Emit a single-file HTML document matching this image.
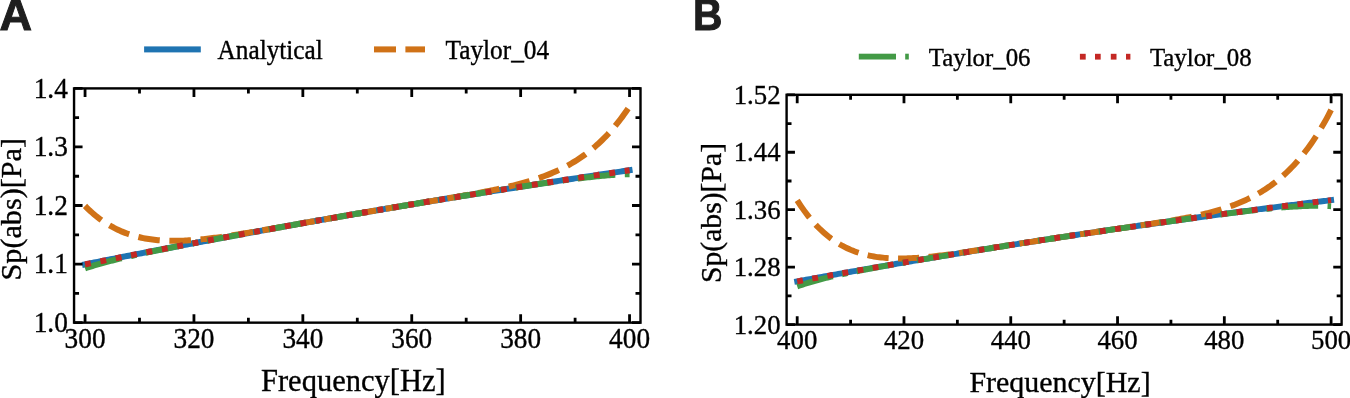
<!DOCTYPE html>
<html><head><meta charset="utf-8"><title>chart</title><style>html,body{margin:0;padding:0;background:#fff;}
svg{display:block;}
.tick,.leg,.lab,.ylab{font-family:"Liberation Serif",serif;fill:#000;stroke:#000;stroke-width:0.35;}
.let{font-family:"Liberation Sans",sans-serif;font-weight:bold;fill:#1e1e1e;stroke:#1e1e1e;stroke-width:1.0;stroke-linejoin:miter;}
</style></head>
<body><svg width="1350" height="398" viewBox="0 0 1350 398">
<path d="M85.05 264.36 L86.87 264.00 L88.69 263.63 L90.51 263.27 L92.33 262.91 L94.16 262.54 L95.98 262.18 L97.80 261.82 L99.62 261.45 L101.44 261.09 L103.26 260.73 L105.08 260.37 L106.90 260.01 L108.72 259.65 L110.54 259.29 L112.37 258.93 L114.19 258.57 L116.01 258.21 L117.83 257.85 L119.65 257.49 L121.47 257.14 L123.29 256.78 L125.11 256.42 L126.93 256.07 L128.76 255.71 L130.58 255.35 L132.40 255.00 L134.22 254.64 L136.04 254.29 L137.86 253.93 L139.68 253.58 L141.50 253.22 L143.32 252.87 L145.15 252.51 L146.97 252.16 L148.79 251.81 L150.61 251.46 L152.43 251.10 L154.25 250.75 L156.07 250.40 L157.89 250.05 L159.71 249.70 L161.53 249.35 L163.36 249.00 L165.18 248.65 L167.00 248.30 L168.82 247.95 L170.64 247.60 L172.46 247.25 L174.28 246.91 L176.10 246.56 L177.92 246.21 L179.75 245.86 L181.57 245.52 L183.39 245.17 L185.21 244.82 L187.03 244.48 L188.85 244.13 L190.67 243.79 L192.49 243.44 L194.31 243.10 L196.14 242.76 L197.96 242.41 L199.78 242.07 L201.60 241.73 L203.42 241.38 L205.24 241.04 L207.06 240.70 L208.88 240.36 L210.70 240.02 L212.52 239.67 L214.35 239.33 L216.17 238.99 L217.99 238.65 L219.81 238.31 L221.63 237.98 L223.45 237.64 L225.27 237.30 L227.09 236.96 L228.91 236.62 L230.74 236.28 L232.56 235.95 L234.38 235.61 L236.20 235.27 L238.02 234.94 L239.84 234.60 L241.66 234.27 L243.48 233.93 L245.30 233.60 L247.13 233.26 L248.95 232.93 L250.77 232.59 L252.59 232.26 L254.41 231.93 L256.23 231.59 L258.05 231.26 L259.87 230.93 L261.69 230.60 L263.51 230.27 L265.34 229.93 L267.16 229.60 L268.98 229.27 L270.80 228.94 L272.62 228.61 L274.44 228.28 L276.26 227.95 L278.08 227.63 L279.90 227.30 L281.73 226.97 L283.55 226.64 L285.37 226.31 L287.19 225.99 L289.01 225.66 L290.83 225.33 L292.65 225.01 L294.47 224.68 L296.29 224.36 L298.12 224.03 L299.94 223.71 L301.76 223.38 L303.58 223.06 L305.40 222.73 L307.22 222.41 L309.04 222.09 L310.86 221.76 L312.68 221.44 L314.50 221.12 L316.33 220.80 L318.15 220.48 L319.97 220.15 L321.79 219.83 L323.61 219.51 L325.43 219.19 L327.25 218.87 L329.07 218.55 L330.89 218.23 L332.72 217.91 L334.54 217.60 L336.36 217.28 L338.18 216.96 L340.00 216.64 L341.82 216.33 L343.64 216.01 L345.46 215.69 L347.28 215.38 L349.11 215.06 L350.93 214.74 L352.75 214.43 L354.57 214.11 L356.39 213.80 L358.21 213.48 L360.03 213.17 L361.85 212.86 L363.67 212.54 L365.49 212.23 L367.32 211.92 L369.14 211.61 L370.96 211.29 L372.78 210.98 L374.60 210.67 L376.42 210.36 L378.24 210.05 L380.06 209.74 L381.88 209.43 L383.71 209.12 L385.53 208.81 L387.35 208.50 L389.17 208.19 L390.99 207.88 L392.81 207.58 L394.63 207.27 L396.45 206.96 L398.27 206.65 L400.10 206.35 L401.92 206.04 L403.74 205.73 L405.56 205.43 L407.38 205.12 L409.20 204.82 L411.02 204.51 L412.84 204.21 L414.66 203.90 L416.48 203.60 L418.31 203.30 L420.13 202.99 L421.95 202.69 L423.77 202.39 L425.59 202.09 L427.41 201.78 L429.23 201.48 L431.05 201.18 L432.87 200.88 L434.70 200.58 L436.52 200.28 L438.34 199.98 L440.16 199.68 L441.98 199.38 L443.80 199.08 L445.62 198.78 L447.44 198.49 L449.26 198.19 L451.09 197.89 L452.91 197.59 L454.73 197.29 L456.55 197.00 L458.37 196.70 L460.19 196.41 L462.01 196.11 L463.83 195.81 L465.65 195.52 L467.47 195.22 L469.30 194.93 L471.12 194.64 L472.94 194.34 L474.76 194.05 L476.58 193.76 L478.40 193.46 L480.22 193.17 L482.04 192.88 L483.86 192.59 L485.69 192.29 L487.51 192.00 L489.33 191.71 L491.15 191.42 L492.97 191.13 L494.79 190.84 L496.61 190.55 L498.43 190.26 L500.25 189.97 L502.08 189.68 L503.90 189.40 L505.72 189.11 L507.54 188.82 L509.36 188.53 L511.18 188.25 L513.00 187.96 L514.82 187.67 L516.64 187.39 L518.46 187.10 L520.29 186.82 L522.11 186.53 L523.93 186.25 L525.75 185.96 L527.57 185.68 L529.39 185.39 L531.21 185.11 L533.03 184.83 L534.85 184.54 L536.68 184.26 L538.50 183.98 L540.32 183.70 L542.14 183.41 L543.96 183.13 L545.78 182.85 L547.60 182.57 L549.42 182.29 L551.24 182.01 L553.07 181.73 L554.89 181.45 L556.71 181.17 L558.53 180.89 L560.35 180.61 L562.17 180.34 L563.99 180.06 L565.81 179.78 L567.63 179.50 L569.45 179.23 L571.28 178.95 L573.10 178.67 L574.92 178.40 L576.74 178.12 L578.56 177.85 L580.38 177.57 L582.20 177.30 L584.02 177.02 L585.84 176.75 L587.67 176.47 L589.49 176.20 L591.31 175.93 L593.13 175.65 L594.95 175.38 L596.77 175.11 L598.59 174.84 L600.41 174.57 L602.23 174.29 L604.06 174.02 L605.88 173.75 L607.70 173.48 L609.52 173.21 L611.34 172.94 L613.16 172.67 L614.98 172.40 L616.80 172.14 L618.62 171.87 L620.44 171.60 L622.27 171.33 L624.09 171.06 L625.91 170.80 L627.73 170.53 L629.55 170.26" stroke="#1f74b2" stroke-width="6.00" fill="none" stroke-linecap="square"/>
<path d="M85.05 205.98 L86.87 207.80 L88.69 209.56 L90.51 211.26 L92.33 212.88 L94.16 214.45 L95.98 215.95 L97.80 217.40 L99.62 218.78 L101.44 220.11 L103.26 221.39 L105.08 222.61 L106.90 223.77 L108.72 224.89 L110.54 225.96 L112.37 226.97 L114.19 227.95 L116.01 228.87 L117.83 229.75 L119.65 230.59 L121.47 231.39 L123.29 232.14 L125.11 232.86 L126.93 233.54 L128.76 234.18 L130.58 234.78 L132.40 235.35 L134.22 235.88 L136.04 236.38 L137.86 236.85 L139.68 237.29 L141.50 237.70 L143.32 238.08 L145.15 238.43 L146.97 238.75 L148.79 239.04 L150.61 239.31 L152.43 239.56 L154.25 239.78 L156.07 239.98 L157.89 240.15 L159.71 240.31 L161.53 240.44 L163.36 240.55 L165.18 240.64 L167.00 240.72 L168.82 240.77 L170.64 240.81 L172.46 240.83 L174.28 240.84 L176.10 240.82 L177.92 240.80 L179.75 240.76 L181.57 240.70 L183.39 240.63 L185.21 240.55 L187.03 240.46 L188.85 240.35 L190.67 240.23 L192.49 240.10 L194.31 239.96 L196.14 239.81 L197.96 239.66 L199.78 239.49 L201.60 239.31 L203.42 239.12 L205.24 238.93 L207.06 238.73 L208.88 238.52 L210.70 238.30 L212.52 238.08 L214.35 237.85 L216.17 237.61 L217.99 237.37 L219.81 237.13 L221.63 236.87 L223.45 236.62 L225.27 236.35 L227.09 236.09 L228.91 235.82 L230.74 235.54 L232.56 235.26 L234.38 234.98 L236.20 234.70 L238.02 234.41 L239.84 234.12 L241.66 233.82 L243.48 233.53 L245.30 233.23 L247.13 232.92 L248.95 232.62 L250.77 232.32 L252.59 232.01 L254.41 231.70 L256.23 231.39 L258.05 231.08 L259.87 230.76 L261.69 230.45 L263.51 230.13 L265.34 229.81 L267.16 229.50 L268.98 229.18 L270.80 228.86 L272.62 228.54 L274.44 228.22 L276.26 227.90 L278.08 227.57 L279.90 227.25 L281.73 226.93 L283.55 226.61 L285.37 226.28 L287.19 225.96 L289.01 225.64 L290.83 225.31 L292.65 224.99 L294.47 224.67 L296.29 224.34 L298.12 224.02 L299.94 223.70 L301.76 223.37 L303.58 223.05 L305.40 222.73 L307.22 222.41 L309.04 222.08 L310.86 221.76 L312.68 221.44 L314.50 221.12 L316.33 220.80 L318.15 220.47 L319.97 220.15 L321.79 219.83 L323.61 219.51 L325.43 219.19 L327.25 218.87 L329.07 218.55 L330.89 218.23 L332.72 217.91 L334.54 217.60 L336.36 217.28 L338.18 216.96 L340.00 216.64 L341.82 216.33 L343.64 216.01 L345.46 215.69 L347.28 215.38 L349.11 215.06 L350.93 214.74 L352.75 214.43 L354.57 214.11 L356.39 213.80 L358.21 213.48 L360.03 213.17 L361.85 212.86 L363.67 212.54 L365.49 212.23 L367.32 211.92 L369.14 211.61 L370.96 211.29 L372.78 210.98 L374.60 210.67 L376.42 210.36 L378.24 210.05 L380.06 209.74 L381.88 209.43 L383.71 209.12 L385.53 208.81 L387.35 208.50 L389.17 208.19 L390.99 207.88 L392.81 207.58 L394.63 207.27 L396.45 206.96 L398.27 206.65 L400.10 206.35 L401.92 206.04 L403.74 205.73 L405.56 205.43 L407.38 205.12 L409.20 204.81 L411.02 204.51 L412.84 204.20 L414.66 203.90 L416.48 203.59 L418.31 203.29 L420.13 202.98 L421.95 202.68 L423.77 202.37 L425.59 202.07 L427.41 201.76 L429.23 201.46 L431.05 201.15 L432.87 200.85 L434.70 200.54 L436.52 200.24 L438.34 199.93 L440.16 199.62 L441.98 199.32 L443.80 199.01 L445.62 198.70 L447.44 198.39 L449.26 198.08 L451.09 197.77 L452.91 197.46 L454.73 197.15 L456.55 196.83 L458.37 196.52 L460.19 196.20 L462.01 195.88 L463.83 195.56 L465.65 195.24 L467.47 194.92 L469.30 194.59 L471.12 194.26 L472.94 193.93 L474.76 193.60 L476.58 193.26 L478.40 192.93 L480.22 192.58 L482.04 192.24 L483.86 191.89 L485.69 191.54 L487.51 191.18 L489.33 190.82 L491.15 190.45 L492.97 190.08 L494.79 189.71 L496.61 189.32 L498.43 188.94 L500.25 188.54 L502.08 188.14 L503.90 187.74 L505.72 187.32 L507.54 186.90 L509.36 186.48 L511.18 186.04 L513.00 185.59 L514.82 185.14 L516.64 184.67 L518.46 184.20 L520.29 183.72 L522.11 183.22 L523.93 182.72 L525.75 182.20 L527.57 181.67 L529.39 181.12 L531.21 180.57 L533.03 179.99 L534.85 179.41 L536.68 178.81 L538.50 178.19 L540.32 177.56 L542.14 176.90 L543.96 176.24 L545.78 175.55 L547.60 174.84 L549.42 174.11 L551.24 173.37 L553.07 172.60 L554.89 171.80 L556.71 170.99 L558.53 170.15 L560.35 169.28 L562.17 168.39 L563.99 167.47 L565.81 166.53 L567.63 165.55 L569.45 164.55 L571.28 163.51 L573.10 162.44 L574.92 161.34 L576.74 160.21 L578.56 159.04 L580.38 157.83 L582.20 156.58 L584.02 155.30 L585.84 153.98 L587.67 152.61 L589.49 151.20 L591.31 149.75 L593.13 148.25 L594.95 146.71 L596.77 145.11 L598.59 143.47 L600.41 141.78 L602.23 140.03 L604.06 138.23 L605.88 136.37 L607.70 134.45 L609.52 132.48 L611.34 130.44 L613.16 128.35 L614.98 126.18 L616.80 123.95 L618.62 121.65 L620.44 119.29 L622.27 116.85 L624.09 114.33 L625.91 111.74 L627.73 109.07 L629.55 106.32" stroke="#d07217" stroke-width="6.00" fill="none" stroke-dasharray="21.65 9.62"/>
<path d="M85.05 268.34 L86.87 267.74 L88.69 267.16 L90.51 266.58 L92.33 266.02 L94.16 265.47 L95.98 264.93 L97.80 264.40 L99.62 263.88 L101.44 263.37 L103.26 262.87 L105.08 262.37 L106.90 261.88 L108.72 261.40 L110.54 260.93 L112.37 260.47 L114.19 260.01 L116.01 259.55 L117.83 259.11 L119.65 258.67 L121.47 258.23 L123.29 257.80 L125.11 257.37 L126.93 256.95 L128.76 256.53 L130.58 256.12 L132.40 255.71 L134.22 255.30 L136.04 254.90 L137.86 254.50 L139.68 254.11 L141.50 253.71 L143.32 253.32 L145.15 252.94 L146.97 252.55 L148.79 252.17 L150.61 251.79 L152.43 251.41 L154.25 251.04 L156.07 250.66 L157.89 250.29 L159.71 249.92 L161.53 249.55 L163.36 249.19 L165.18 248.82 L167.00 248.46 L168.82 248.10 L170.64 247.73 L172.46 247.38 L174.28 247.02 L176.10 246.66 L177.92 246.30 L179.75 245.95 L181.57 245.59 L183.39 245.24 L185.21 244.89 L187.03 244.54 L188.85 244.19 L190.67 243.84 L192.49 243.49 L194.31 243.14 L196.14 242.79 L197.96 242.44 L199.78 242.10 L201.60 241.75 L203.42 241.41 L205.24 241.06 L207.06 240.72 L208.88 240.37 L210.70 240.03 L212.52 239.69 L214.35 239.35 L216.17 239.00 L217.99 238.66 L219.81 238.32 L221.63 237.98 L223.45 237.64 L225.27 237.30 L227.09 236.96 L228.91 236.63 L230.74 236.29 L232.56 235.95 L234.38 235.61 L236.20 235.28 L238.02 234.94 L239.84 234.60 L241.66 234.27 L243.48 233.93 L245.30 233.60 L247.13 233.26 L248.95 232.93 L250.77 232.59 L252.59 232.26 L254.41 231.93 L256.23 231.59 L258.05 231.26 L259.87 230.93 L261.69 230.60 L263.51 230.27 L265.34 229.93 L267.16 229.60 L268.98 229.27 L270.80 228.94 L272.62 228.61 L274.44 228.28 L276.26 227.95 L278.08 227.63 L279.90 227.30 L281.73 226.97 L283.55 226.64 L285.37 226.31 L287.19 225.99 L289.01 225.66 L290.83 225.33 L292.65 225.01 L294.47 224.68 L296.29 224.36 L298.12 224.03 L299.94 223.71 L301.76 223.38 L303.58 223.06 L305.40 222.73 L307.22 222.41 L309.04 222.09 L310.86 221.76 L312.68 221.44 L314.50 221.12 L316.33 220.80 L318.15 220.48 L319.97 220.15 L321.79 219.83 L323.61 219.51 L325.43 219.19 L327.25 218.87 L329.07 218.55 L330.89 218.23 L332.72 217.91 L334.54 217.60 L336.36 217.28 L338.18 216.96 L340.00 216.64 L341.82 216.33 L343.64 216.01 L345.46 215.69 L347.28 215.38 L349.11 215.06 L350.93 214.74 L352.75 214.43 L354.57 214.11 L356.39 213.80 L358.21 213.48 L360.03 213.17 L361.85 212.86 L363.67 212.54 L365.49 212.23 L367.32 211.92 L369.14 211.61 L370.96 211.29 L372.78 210.98 L374.60 210.67 L376.42 210.36 L378.24 210.05 L380.06 209.74 L381.88 209.43 L383.71 209.12 L385.53 208.81 L387.35 208.50 L389.17 208.19 L390.99 207.88 L392.81 207.58 L394.63 207.27 L396.45 206.96 L398.27 206.65 L400.10 206.35 L401.92 206.04 L403.74 205.73 L405.56 205.43 L407.38 205.12 L409.20 204.82 L411.02 204.51 L412.84 204.21 L414.66 203.90 L416.48 203.60 L418.31 203.30 L420.13 202.99 L421.95 202.69 L423.77 202.39 L425.59 202.09 L427.41 201.78 L429.23 201.48 L431.05 201.18 L432.87 200.88 L434.70 200.58 L436.52 200.28 L438.34 199.98 L440.16 199.68 L441.98 199.38 L443.80 199.08 L445.62 198.78 L447.44 198.49 L449.26 198.19 L451.09 197.89 L452.91 197.59 L454.73 197.30 L456.55 197.00 L458.37 196.70 L460.19 196.41 L462.01 196.11 L463.83 195.82 L465.65 195.52 L467.47 195.23 L469.30 194.93 L471.12 194.64 L472.94 194.34 L474.76 194.05 L476.58 193.76 L478.40 193.47 L480.22 193.17 L482.04 192.88 L483.86 192.59 L485.69 192.30 L487.51 192.01 L489.33 191.72 L491.15 191.43 L492.97 191.14 L494.79 190.85 L496.61 190.56 L498.43 190.27 L500.25 189.99 L502.08 189.70 L503.90 189.41 L505.72 189.13 L507.54 188.84 L509.36 188.55 L511.18 188.27 L513.00 187.99 L514.82 187.70 L516.64 187.42 L518.46 187.14 L520.29 186.85 L522.11 186.57 L523.93 186.29 L525.75 186.01 L527.57 185.73 L529.39 185.46 L531.21 185.18 L533.03 184.90 L534.85 184.63 L536.68 184.35 L538.50 184.08 L540.32 183.81 L542.14 183.54 L543.96 183.27 L545.78 183.00 L547.60 182.73 L549.42 182.46 L551.24 182.20 L553.07 181.93 L554.89 181.67 L556.71 181.41 L558.53 181.15 L560.35 180.90 L562.17 180.64 L563.99 180.39 L565.81 180.14 L567.63 179.89 L569.45 179.65 L571.28 179.40 L573.10 179.16 L574.92 178.93 L576.74 178.69 L578.56 178.46 L580.38 178.23 L582.20 178.01 L584.02 177.79 L585.84 177.57 L587.67 177.36 L589.49 177.15 L591.31 176.95 L593.13 176.75 L594.95 176.55 L596.77 176.36 L598.59 176.18 L600.41 176.00 L602.23 175.83 L604.06 175.67 L605.88 175.51 L607.70 175.36 L609.52 175.21 L611.34 175.08 L613.16 174.95 L614.98 174.83 L616.80 174.72 L618.62 174.62 L620.44 174.53 L622.27 174.45 L624.09 174.38 L625.91 174.32 L627.73 174.27 L629.55 174.24" stroke="#439a46" stroke-width="6.00" fill="none" stroke-dasharray="37.95 9.55 5.6 9.5"/>
<path d="M85.05 264.36 L86.87 264.00 L88.69 263.63 L90.51 263.27 L92.33 262.91 L94.16 262.54 L95.98 262.18 L97.80 261.82 L99.62 261.45 L101.44 261.09 L103.26 260.73 L105.08 260.37 L106.90 260.01 L108.72 259.65 L110.54 259.29 L112.37 258.93 L114.19 258.57 L116.01 258.21 L117.83 257.85 L119.65 257.49 L121.47 257.14 L123.29 256.78 L125.11 256.42 L126.93 256.07 L128.76 255.71 L130.58 255.35 L132.40 255.00 L134.22 254.64 L136.04 254.29 L137.86 253.93 L139.68 253.58 L141.50 253.22 L143.32 252.87 L145.15 252.51 L146.97 252.16 L148.79 251.81 L150.61 251.46 L152.43 251.10 L154.25 250.75 L156.07 250.40 L157.89 250.05 L159.71 249.70 L161.53 249.35 L163.36 249.00 L165.18 248.65 L167.00 248.30 L168.82 247.95 L170.64 247.60 L172.46 247.25 L174.28 246.91 L176.10 246.56 L177.92 246.21 L179.75 245.86 L181.57 245.52 L183.39 245.17 L185.21 244.82 L187.03 244.48 L188.85 244.13 L190.67 243.79 L192.49 243.44 L194.31 243.10 L196.14 242.76 L197.96 242.41 L199.78 242.07 L201.60 241.73 L203.42 241.38 L205.24 241.04 L207.06 240.70 L208.88 240.36 L210.70 240.02 L212.52 239.67 L214.35 239.33 L216.17 238.99 L217.99 238.65 L219.81 238.31 L221.63 237.98 L223.45 237.64 L225.27 237.30 L227.09 236.96 L228.91 236.62 L230.74 236.28 L232.56 235.95 L234.38 235.61 L236.20 235.27 L238.02 234.94 L239.84 234.60 L241.66 234.27 L243.48 233.93 L245.30 233.60 L247.13 233.26 L248.95 232.93 L250.77 232.59 L252.59 232.26 L254.41 231.93 L256.23 231.59 L258.05 231.26 L259.87 230.93 L261.69 230.60 L263.51 230.27 L265.34 229.93 L267.16 229.60 L268.98 229.27 L270.80 228.94 L272.62 228.61 L274.44 228.28 L276.26 227.95 L278.08 227.63 L279.90 227.30 L281.73 226.97 L283.55 226.64 L285.37 226.31 L287.19 225.99 L289.01 225.66 L290.83 225.33 L292.65 225.01 L294.47 224.68 L296.29 224.36 L298.12 224.03 L299.94 223.71 L301.76 223.38 L303.58 223.06 L305.40 222.73 L307.22 222.41 L309.04 222.09 L310.86 221.76 L312.68 221.44 L314.50 221.12 L316.33 220.80 L318.15 220.48 L319.97 220.15 L321.79 219.83 L323.61 219.51 L325.43 219.19 L327.25 218.87 L329.07 218.55 L330.89 218.23 L332.72 217.91 L334.54 217.60 L336.36 217.28 L338.18 216.96 L340.00 216.64 L341.82 216.33 L343.64 216.01 L345.46 215.69 L347.28 215.38 L349.11 215.06 L350.93 214.74 L352.75 214.43 L354.57 214.11 L356.39 213.80 L358.21 213.48 L360.03 213.17 L361.85 212.86 L363.67 212.54 L365.49 212.23 L367.32 211.92 L369.14 211.61 L370.96 211.29 L372.78 210.98 L374.60 210.67 L376.42 210.36 L378.24 210.05 L380.06 209.74 L381.88 209.43 L383.71 209.12 L385.53 208.81 L387.35 208.50 L389.17 208.19 L390.99 207.88 L392.81 207.58 L394.63 207.27 L396.45 206.96 L398.27 206.65 L400.10 206.35 L401.92 206.04 L403.74 205.73 L405.56 205.43 L407.38 205.12 L409.20 204.82 L411.02 204.51 L412.84 204.21 L414.66 203.90 L416.48 203.60 L418.31 203.30 L420.13 202.99 L421.95 202.69 L423.77 202.39 L425.59 202.09 L427.41 201.78 L429.23 201.48 L431.05 201.18 L432.87 200.88 L434.70 200.58 L436.52 200.28 L438.34 199.98 L440.16 199.68 L441.98 199.38 L443.80 199.08 L445.62 198.78 L447.44 198.49 L449.26 198.19 L451.09 197.89 L452.91 197.59 L454.73 197.29 L456.55 197.00 L458.37 196.70 L460.19 196.41 L462.01 196.11 L463.83 195.81 L465.65 195.52 L467.47 195.22 L469.30 194.93 L471.12 194.64 L472.94 194.34 L474.76 194.05 L476.58 193.76 L478.40 193.46 L480.22 193.17 L482.04 192.88 L483.86 192.59 L485.69 192.29 L487.51 192.00 L489.33 191.71 L491.15 191.42 L492.97 191.13 L494.79 190.84 L496.61 190.55 L498.43 190.26 L500.25 189.97 L502.08 189.68 L503.90 189.40 L505.72 189.11 L507.54 188.82 L509.36 188.53 L511.18 188.25 L513.00 187.96 L514.82 187.67 L516.64 187.39 L518.46 187.10 L520.29 186.82 L522.11 186.53 L523.93 186.25 L525.75 185.96 L527.57 185.68 L529.39 185.39 L531.21 185.11 L533.03 184.83 L534.85 184.54 L536.68 184.26 L538.50 183.98 L540.32 183.70 L542.14 183.41 L543.96 183.13 L545.78 182.85 L547.60 182.57 L549.42 182.29 L551.24 182.01 L553.07 181.73 L554.89 181.45 L556.71 181.17 L558.53 180.89 L560.35 180.61 L562.17 180.34 L563.99 180.06 L565.81 179.78 L567.63 179.50 L569.45 179.23 L571.28 178.95 L573.10 178.67 L574.92 178.40 L576.74 178.12 L578.56 177.85 L580.38 177.57 L582.20 177.30 L584.02 177.02 L585.84 176.75 L587.67 176.47 L589.49 176.20 L591.31 175.93 L593.13 175.65 L594.95 175.38 L596.77 175.11 L598.59 174.84 L600.41 174.57 L602.23 174.29 L604.06 174.02 L605.88 173.75 L607.70 173.48 L609.52 173.21 L611.34 172.94 L613.16 172.67 L614.98 172.40 L616.80 172.14 L618.62 171.87 L620.44 171.60 L622.27 171.33 L624.09 171.06 L625.91 170.80 L627.73 170.53 L629.55 170.26" stroke="#c42824" stroke-width="6.00" fill="none" stroke-dasharray="5.9 9.75"/>
<path d="M85.05 322.65V314.15M85.05 88.40V96.90M193.95 322.65V314.15M193.95 88.40V96.90M302.85 322.65V314.15M302.85 88.40V96.90M411.75 322.65V314.15M411.75 88.40V96.90M520.65 322.65V314.15M520.65 88.40V96.90M629.55 322.65V314.15M629.55 88.40V96.90M139.50 322.65V317.65M139.50 88.40V93.40M248.40 322.65V317.65M248.40 88.40V93.40M357.30 322.65V317.65M357.30 88.40V93.40M466.20 322.65V317.65M466.20 88.40V93.40M575.10 322.65V317.65M575.10 88.40V93.40M74.05 322.65H82.55M640.50 322.65H632.00M74.05 264.09H82.55M640.50 264.09H632.00M74.05 205.52H82.55M640.50 205.52H632.00M74.05 146.96H82.55M640.50 146.96H632.00M74.05 88.40H82.55M640.50 88.40H632.00M74.05 293.37H79.05M640.50 293.37H635.50M74.05 234.81H79.05M640.50 234.81H635.50M74.05 176.24H79.05M640.50 176.24H635.50M74.05 117.68H79.05M640.50 117.68H635.50" stroke="#000" stroke-width="2.80" fill="none"/>
<rect x="74.05" y="88.40" width="566.45" height="234.25" fill="none" stroke="#000" stroke-width="2.40"/>
<path d="M797.20 281.38 L798.99 281.05 L800.77 280.73 L802.56 280.40 L804.34 280.08 L806.13 279.75 L807.91 279.43 L809.70 279.10 L811.48 278.78 L813.27 278.46 L815.06 278.13 L816.84 277.81 L818.63 277.49 L820.41 277.17 L822.20 276.84 L823.98 276.52 L825.77 276.20 L827.56 275.88 L829.34 275.56 L831.13 275.24 L832.91 274.92 L834.70 274.60 L836.48 274.29 L838.27 273.97 L840.05 273.65 L841.84 273.33 L843.63 273.02 L845.41 272.70 L847.20 272.38 L848.98 272.07 L850.77 271.75 L852.55 271.44 L854.34 271.12 L856.13 270.81 L857.91 270.49 L859.70 270.18 L861.48 269.87 L863.27 269.56 L865.05 269.24 L866.84 268.93 L868.62 268.62 L870.41 268.31 L872.20 268.00 L873.98 267.69 L875.77 267.38 L877.55 267.07 L879.34 266.76 L881.12 266.45 L882.91 266.14 L884.70 265.83 L886.48 265.52 L888.27 265.22 L890.05 264.91 L891.84 264.60 L893.62 264.30 L895.41 263.99 L897.19 263.68 L898.98 263.38 L900.77 263.07 L902.55 262.77 L904.34 262.47 L906.12 262.16 L907.91 261.86 L909.69 261.55 L911.48 261.25 L913.27 260.95 L915.05 260.65 L916.84 260.35 L918.62 260.05 L920.41 259.74 L922.19 259.44 L923.98 259.14 L925.76 258.84 L927.55 258.55 L929.34 258.25 L931.12 257.95 L932.91 257.65 L934.69 257.35 L936.48 257.05 L938.26 256.76 L940.05 256.46 L941.84 256.16 L943.62 255.87 L945.41 255.57 L947.19 255.28 L948.98 254.98 L950.76 254.69 L952.55 254.39 L954.33 254.10 L956.12 253.81 L957.91 253.51 L959.69 253.22 L961.48 252.93 L963.26 252.64 L965.05 252.35 L966.83 252.05 L968.62 251.76 L970.41 251.47 L972.19 251.18 L973.98 250.89 L975.76 250.60 L977.55 250.31 L979.33 250.03 L981.12 249.74 L982.90 249.45 L984.69 249.16 L986.48 248.88 L988.26 248.59 L990.05 248.30 L991.83 248.02 L993.62 247.73 L995.40 247.45 L997.19 247.16 L998.97 246.88 L1000.76 246.59 L1002.55 246.31 L1004.33 246.02 L1006.12 245.74 L1007.90 245.46 L1009.69 245.18 L1011.47 244.89 L1013.26 244.61 L1015.05 244.33 L1016.83 244.05 L1018.62 243.77 L1020.40 243.49 L1022.19 243.21 L1023.97 242.93 L1025.76 242.65 L1027.54 242.37 L1029.33 242.09 L1031.12 241.82 L1032.90 241.54 L1034.69 241.26 L1036.47 240.98 L1038.26 240.71 L1040.04 240.43 L1041.83 240.16 L1043.62 239.88 L1045.40 239.60 L1047.19 239.33 L1048.97 239.06 L1050.76 238.78 L1052.54 238.51 L1054.33 238.23 L1056.11 237.96 L1057.90 237.69 L1059.69 237.42 L1061.47 237.14 L1063.26 236.87 L1065.04 236.60 L1066.83 236.33 L1068.61 236.06 L1070.40 235.79 L1072.19 235.52 L1073.97 235.25 L1075.76 234.98 L1077.54 234.71 L1079.33 234.45 L1081.11 234.18 L1082.90 233.91 L1084.68 233.64 L1086.47 233.38 L1088.26 233.11 L1090.04 232.84 L1091.83 232.58 L1093.61 232.31 L1095.40 232.05 L1097.18 231.78 L1098.97 231.52 L1100.76 231.25 L1102.54 230.99 L1104.33 230.73 L1106.11 230.47 L1107.90 230.20 L1109.68 229.94 L1111.47 229.68 L1113.25 229.42 L1115.04 229.16 L1116.83 228.90 L1118.61 228.64 L1120.40 228.37 L1122.18 228.12 L1123.97 227.86 L1125.75 227.60 L1127.54 227.34 L1129.33 227.08 L1131.11 226.82 L1132.90 226.56 L1134.68 226.31 L1136.47 226.05 L1138.25 225.79 L1140.04 225.54 L1141.82 225.28 L1143.61 225.03 L1145.40 224.77 L1147.18 224.52 L1148.97 224.26 L1150.75 224.01 L1152.54 223.76 L1154.32 223.50 L1156.11 223.25 L1157.89 223.00 L1159.68 222.74 L1161.47 222.49 L1163.25 222.24 L1165.04 221.99 L1166.82 221.74 L1168.61 221.49 L1170.39 221.24 L1172.18 220.99 L1173.97 220.74 L1175.75 220.49 L1177.54 220.24 L1179.32 219.99 L1181.11 219.74 L1182.89 219.50 L1184.68 219.25 L1186.46 219.00 L1188.25 218.76 L1190.04 218.51 L1191.82 218.26 L1193.61 218.02 L1195.39 217.77 L1197.18 217.53 L1198.96 217.28 L1200.75 217.04 L1202.54 216.80 L1204.32 216.55 L1206.11 216.31 L1207.89 216.07 L1209.68 215.82 L1211.46 215.58 L1213.25 215.34 L1215.03 215.10 L1216.82 214.86 L1218.61 214.62 L1220.39 214.38 L1222.18 214.14 L1223.96 213.90 L1225.75 213.66 L1227.53 213.42 L1229.32 213.18 L1231.11 212.94 L1232.89 212.70 L1234.68 212.47 L1236.46 212.23 L1238.25 211.99 L1240.03 211.76 L1241.82 211.52 L1243.60 211.28 L1245.39 211.05 L1247.18 210.81 L1248.96 210.58 L1250.75 210.34 L1252.53 210.11 L1254.32 209.88 L1256.10 209.64 L1257.89 209.41 L1259.68 209.18 L1261.46 208.95 L1263.25 208.71 L1265.03 208.48 L1266.82 208.25 L1268.60 208.02 L1270.39 207.79 L1272.17 207.56 L1273.96 207.33 L1275.75 207.10 L1277.53 206.87 L1279.32 206.64 L1281.10 206.41 L1282.89 206.18 L1284.67 205.96 L1286.46 205.73 L1288.25 205.50 L1290.03 205.28 L1291.82 205.05 L1293.60 204.82 L1295.39 204.60 L1297.17 204.37 L1298.96 204.15 L1300.74 203.92 L1302.53 203.70 L1304.32 203.47 L1306.10 203.25 L1307.89 203.03 L1309.67 202.80 L1311.46 202.58 L1313.24 202.36 L1315.03 202.14 L1316.82 201.91 L1318.60 201.69 L1320.39 201.47 L1322.17 201.25 L1323.96 201.03 L1325.74 200.81 L1327.53 200.59 L1329.31 200.37 L1331.10 200.15" stroke="#1f74b2" stroke-width="5.90" fill="none" stroke-linecap="square"/>
<path d="M797.20 200.29 L798.99 203.08 L800.77 205.77 L802.56 208.36 L804.34 210.86 L806.13 213.27 L807.91 215.59 L809.70 217.82 L811.48 219.96 L813.27 222.03 L815.06 224.01 L816.84 225.91 L818.63 227.74 L820.41 229.50 L822.20 231.18 L823.98 232.79 L825.77 234.33 L827.56 235.81 L829.34 237.23 L831.13 238.58 L832.91 239.87 L834.70 241.10 L836.48 242.28 L838.27 243.40 L840.05 244.47 L841.84 245.48 L843.63 246.45 L845.41 247.36 L847.20 248.23 L848.98 249.05 L850.77 249.83 L852.55 250.56 L854.34 251.26 L856.13 251.91 L857.91 252.52 L859.70 253.10 L861.48 253.64 L863.27 254.15 L865.05 254.62 L866.84 255.05 L868.62 255.46 L870.41 255.83 L872.20 256.18 L873.98 256.50 L875.77 256.79 L877.55 257.05 L879.34 257.29 L881.12 257.50 L882.91 257.69 L884.70 257.86 L886.48 258.00 L888.27 258.12 L890.05 258.23 L891.84 258.31 L893.62 258.38 L895.41 258.42 L897.19 258.45 L898.98 258.47 L900.77 258.46 L902.55 258.45 L904.34 258.41 L906.12 258.37 L907.91 258.31 L909.69 258.23 L911.48 258.15 L913.27 258.05 L915.05 257.95 L916.84 257.83 L918.62 257.70 L920.41 257.56 L922.19 257.42 L923.98 257.26 L925.76 257.10 L927.55 256.92 L929.34 256.75 L931.12 256.56 L932.91 256.37 L934.69 256.17 L936.48 255.96 L938.26 255.75 L940.05 255.54 L941.84 255.31 L943.62 255.09 L945.41 254.86 L947.19 254.62 L948.98 254.38 L950.76 254.14 L952.55 253.90 L954.33 253.65 L956.12 253.39 L957.91 253.14 L959.69 252.88 L961.48 252.62 L963.26 252.36 L965.05 252.10 L966.83 251.83 L968.62 251.56 L970.41 251.29 L972.19 251.02 L973.98 250.75 L975.76 250.48 L977.55 250.20 L979.33 249.93 L981.12 249.65 L982.90 249.37 L984.69 249.09 L986.48 248.82 L988.26 248.54 L990.05 248.26 L991.83 247.98 L993.62 247.70 L995.40 247.42 L997.19 247.13 L998.97 246.85 L1000.76 246.57 L1002.55 246.29 L1004.33 246.01 L1006.12 245.73 L1007.90 245.45 L1009.69 245.17 L1011.47 244.89 L1013.26 244.61 L1015.05 244.33 L1016.83 244.05 L1018.62 243.77 L1020.40 243.49 L1022.19 243.21 L1023.97 242.93 L1025.76 242.65 L1027.54 242.37 L1029.33 242.09 L1031.12 241.82 L1032.90 241.54 L1034.69 241.26 L1036.47 240.98 L1038.26 240.71 L1040.04 240.43 L1041.83 240.16 L1043.62 239.88 L1045.40 239.60 L1047.19 239.33 L1048.97 239.06 L1050.76 238.78 L1052.54 238.51 L1054.33 238.23 L1056.11 237.96 L1057.90 237.69 L1059.69 237.42 L1061.47 237.14 L1063.26 236.87 L1065.04 236.60 L1066.83 236.33 L1068.61 236.06 L1070.40 235.79 L1072.19 235.52 L1073.97 235.25 L1075.76 234.98 L1077.54 234.71 L1079.33 234.45 L1081.11 234.18 L1082.90 233.91 L1084.68 233.64 L1086.47 233.38 L1088.26 233.11 L1090.04 232.84 L1091.83 232.58 L1093.61 232.31 L1095.40 232.05 L1097.18 231.78 L1098.97 231.52 L1100.76 231.25 L1102.54 230.99 L1104.33 230.73 L1106.11 230.46 L1107.90 230.20 L1109.68 229.93 L1111.47 229.67 L1113.25 229.41 L1115.04 229.15 L1116.83 228.88 L1118.61 228.62 L1120.40 228.36 L1122.18 228.09 L1123.97 227.83 L1125.75 227.57 L1127.54 227.30 L1129.33 227.04 L1131.11 226.78 L1132.90 226.51 L1134.68 226.25 L1136.47 225.98 L1138.25 225.71 L1140.04 225.45 L1141.82 225.18 L1143.61 224.91 L1145.40 224.64 L1147.18 224.37 L1148.97 224.09 L1150.75 223.82 L1152.54 223.54 L1154.32 223.26 L1156.11 222.98 L1157.89 222.70 L1159.68 222.42 L1161.47 222.13 L1163.25 221.84 L1165.04 221.55 L1166.82 221.25 L1168.61 220.96 L1170.39 220.65 L1172.18 220.35 L1173.97 220.04 L1175.75 219.73 L1177.54 219.41 L1179.32 219.08 L1181.11 218.76 L1182.89 218.42 L1184.68 218.09 L1186.46 217.74 L1188.25 217.39 L1190.04 217.03 L1191.82 216.67 L1193.61 216.30 L1195.39 215.92 L1197.18 215.53 L1198.96 215.13 L1200.75 214.73 L1202.54 214.32 L1204.32 213.89 L1206.11 213.46 L1207.89 213.01 L1209.68 212.56 L1211.46 212.09 L1213.25 211.61 L1215.03 211.12 L1216.82 210.61 L1218.61 210.09 L1220.39 209.56 L1222.18 209.01 L1223.96 208.45 L1225.75 207.87 L1227.53 207.27 L1229.32 206.65 L1231.11 206.02 L1232.89 205.37 L1234.68 204.70 L1236.46 204.00 L1238.25 203.29 L1240.03 202.55 L1241.82 201.79 L1243.60 201.01 L1245.39 200.20 L1247.18 199.37 L1248.96 198.51 L1250.75 197.63 L1252.53 196.71 L1254.32 195.77 L1256.10 194.79 L1257.89 193.79 L1259.68 192.75 L1261.46 191.68 L1263.25 190.58 L1265.03 189.44 L1266.82 188.26 L1268.60 187.05 L1270.39 185.80 L1272.17 184.51 L1273.96 183.17 L1275.75 181.80 L1277.53 180.38 L1279.32 178.91 L1281.10 177.40 L1282.89 175.84 L1284.67 174.24 L1286.46 172.58 L1288.25 170.87 L1290.03 169.11 L1291.82 167.29 L1293.60 165.41 L1295.39 163.48 L1297.17 161.49 L1298.96 159.43 L1300.74 157.32 L1302.53 155.13 L1304.32 152.89 L1306.10 150.57 L1307.89 148.19 L1309.67 145.73 L1311.46 143.20 L1313.24 140.59 L1315.03 137.91 L1316.82 135.15 L1318.60 132.30 L1320.39 129.38 L1322.17 126.37 L1323.96 123.27 L1325.74 120.08 L1327.53 116.80 L1329.31 113.42 L1331.10 109.95" stroke="#d07217" stroke-width="5.90" fill="none" stroke-dasharray="21.2 9.43"/>
<path d="M797.20 286.40 L798.99 285.78 L800.77 285.17 L802.56 284.58 L804.34 284.01 L806.13 283.45 L807.91 282.90 L809.70 282.36 L811.48 281.84 L813.27 281.33 L815.06 280.82 L816.84 280.33 L818.63 279.85 L820.41 279.38 L822.20 278.92 L823.98 278.46 L825.77 278.01 L827.56 277.58 L829.34 277.14 L831.13 276.72 L832.91 276.30 L834.70 275.89 L836.48 275.48 L838.27 275.08 L840.05 274.69 L841.84 274.30 L843.63 273.92 L845.41 273.54 L847.20 273.16 L848.98 272.79 L850.77 272.42 L852.55 272.06 L854.34 271.70 L856.13 271.34 L857.91 270.99 L859.70 270.64 L861.48 270.29 L863.27 269.94 L865.05 269.60 L866.84 269.26 L868.62 268.92 L870.41 268.59 L872.20 268.25 L873.98 267.92 L875.77 267.59 L877.55 267.27 L879.34 266.94 L881.12 266.62 L882.91 266.29 L884.70 265.97 L886.48 265.65 L888.27 265.33 L890.05 265.02 L891.84 264.70 L893.62 264.38 L895.41 264.07 L897.19 263.76 L898.98 263.45 L900.77 263.13 L902.55 262.82 L904.34 262.51 L906.12 262.21 L907.91 261.90 L909.69 261.59 L911.48 261.29 L913.27 260.98 L915.05 260.67 L916.84 260.37 L918.62 260.07 L920.41 259.76 L922.19 259.46 L923.98 259.16 L925.76 258.86 L927.55 258.56 L929.34 258.26 L931.12 257.96 L932.91 257.66 L934.69 257.36 L936.48 257.06 L938.26 256.76 L940.05 256.47 L941.84 256.17 L943.62 255.87 L945.41 255.58 L947.19 255.28 L948.98 254.98 L950.76 254.69 L952.55 254.40 L954.33 254.10 L956.12 253.81 L957.91 253.51 L959.69 253.22 L961.48 252.93 L963.26 252.64 L965.05 252.35 L966.83 252.05 L968.62 251.76 L970.41 251.47 L972.19 251.18 L973.98 250.89 L975.76 250.60 L977.55 250.31 L979.33 250.03 L981.12 249.74 L982.90 249.45 L984.69 249.16 L986.48 248.88 L988.26 248.59 L990.05 248.30 L991.83 248.02 L993.62 247.73 L995.40 247.45 L997.19 247.16 L998.97 246.88 L1000.76 246.59 L1002.55 246.31 L1004.33 246.02 L1006.12 245.74 L1007.90 245.46 L1009.69 245.18 L1011.47 244.89 L1013.26 244.61 L1015.05 244.33 L1016.83 244.05 L1018.62 243.77 L1020.40 243.49 L1022.19 243.21 L1023.97 242.93 L1025.76 242.65 L1027.54 242.37 L1029.33 242.09 L1031.12 241.82 L1032.90 241.54 L1034.69 241.26 L1036.47 240.98 L1038.26 240.71 L1040.04 240.43 L1041.83 240.16 L1043.62 239.88 L1045.40 239.60 L1047.19 239.33 L1048.97 239.06 L1050.76 238.78 L1052.54 238.51 L1054.33 238.23 L1056.11 237.96 L1057.90 237.69 L1059.69 237.42 L1061.47 237.14 L1063.26 236.87 L1065.04 236.60 L1066.83 236.33 L1068.61 236.06 L1070.40 235.79 L1072.19 235.52 L1073.97 235.25 L1075.76 234.98 L1077.54 234.71 L1079.33 234.45 L1081.11 234.18 L1082.90 233.91 L1084.68 233.64 L1086.47 233.38 L1088.26 233.11 L1090.04 232.84 L1091.83 232.58 L1093.61 232.31 L1095.40 232.05 L1097.18 231.78 L1098.97 231.52 L1100.76 231.25 L1102.54 230.99 L1104.33 230.73 L1106.11 230.47 L1107.90 230.20 L1109.68 229.94 L1111.47 229.68 L1113.25 229.42 L1115.04 229.16 L1116.83 228.90 L1118.61 228.64 L1120.40 228.37 L1122.18 228.12 L1123.97 227.86 L1125.75 227.60 L1127.54 227.34 L1129.33 227.08 L1131.11 226.82 L1132.90 226.56 L1134.68 226.31 L1136.47 226.05 L1138.25 225.79 L1140.04 225.54 L1141.82 225.28 L1143.61 225.03 L1145.40 224.77 L1147.18 224.52 L1148.97 224.26 L1150.75 224.01 L1152.54 223.76 L1154.32 223.50 L1156.11 223.25 L1157.89 223.00 L1159.68 222.75 L1161.47 222.49 L1163.25 222.24 L1165.04 221.99 L1166.82 221.74 L1168.61 221.49 L1170.39 221.24 L1172.18 220.99 L1173.97 220.74 L1175.75 220.50 L1177.54 220.25 L1179.32 220.00 L1181.11 219.75 L1182.89 219.51 L1184.68 219.26 L1186.46 219.01 L1188.25 218.77 L1190.04 218.52 L1191.82 218.28 L1193.61 218.04 L1195.39 217.79 L1197.18 217.55 L1198.96 217.31 L1200.75 217.07 L1202.54 216.83 L1204.32 216.59 L1206.11 216.35 L1207.89 216.11 L1209.68 215.87 L1211.46 215.63 L1213.25 215.40 L1215.03 215.16 L1216.82 214.93 L1218.61 214.69 L1220.39 214.46 L1222.18 214.23 L1223.96 214.00 L1225.75 213.77 L1227.53 213.54 L1229.32 213.31 L1231.11 213.09 L1232.89 212.86 L1234.68 212.64 L1236.46 212.41 L1238.25 212.19 L1240.03 211.97 L1241.82 211.76 L1243.60 211.54 L1245.39 211.32 L1247.18 211.11 L1248.96 210.90 L1250.75 210.69 L1252.53 210.49 L1254.32 210.28 L1256.10 210.08 L1257.89 209.88 L1259.68 209.68 L1261.46 209.49 L1263.25 209.30 L1265.03 209.11 L1266.82 208.92 L1268.60 208.74 L1270.39 208.56 L1272.17 208.39 L1273.96 208.22 L1275.75 208.05 L1277.53 207.89 L1279.32 207.73 L1281.10 207.57 L1282.89 207.42 L1284.67 207.28 L1286.46 207.14 L1288.25 207.00 L1290.03 206.88 L1291.82 206.75 L1293.60 206.64 L1295.39 206.53 L1297.17 206.43 L1298.96 206.33 L1300.74 206.24 L1302.53 206.16 L1304.32 206.09 L1306.10 206.02 L1307.89 205.97 L1309.67 205.92 L1311.46 205.89 L1313.24 205.86 L1315.03 205.84 L1316.82 205.84 L1318.60 205.84 L1320.39 205.86 L1322.17 205.89 L1323.96 205.94 L1325.74 205.99 L1327.53 206.06 L1329.31 206.15 L1331.10 206.25" stroke="#439a46" stroke-width="5.90" fill="none" stroke-dasharray="37.0 9.4 5.6 9.35"/>
<path d="M797.20 281.38 L798.99 281.05 L800.77 280.73 L802.56 280.40 L804.34 280.08 L806.13 279.75 L807.91 279.43 L809.70 279.10 L811.48 278.78 L813.27 278.46 L815.06 278.13 L816.84 277.81 L818.63 277.49 L820.41 277.17 L822.20 276.84 L823.98 276.52 L825.77 276.20 L827.56 275.88 L829.34 275.56 L831.13 275.24 L832.91 274.92 L834.70 274.60 L836.48 274.29 L838.27 273.97 L840.05 273.65 L841.84 273.33 L843.63 273.02 L845.41 272.70 L847.20 272.38 L848.98 272.07 L850.77 271.75 L852.55 271.44 L854.34 271.12 L856.13 270.81 L857.91 270.49 L859.70 270.18 L861.48 269.87 L863.27 269.56 L865.05 269.24 L866.84 268.93 L868.62 268.62 L870.41 268.31 L872.20 268.00 L873.98 267.69 L875.77 267.38 L877.55 267.07 L879.34 266.76 L881.12 266.45 L882.91 266.14 L884.70 265.83 L886.48 265.52 L888.27 265.22 L890.05 264.91 L891.84 264.60 L893.62 264.30 L895.41 263.99 L897.19 263.68 L898.98 263.38 L900.77 263.07 L902.55 262.77 L904.34 262.47 L906.12 262.16 L907.91 261.86 L909.69 261.55 L911.48 261.25 L913.27 260.95 L915.05 260.65 L916.84 260.35 L918.62 260.05 L920.41 259.74 L922.19 259.44 L923.98 259.14 L925.76 258.84 L927.55 258.55 L929.34 258.25 L931.12 257.95 L932.91 257.65 L934.69 257.35 L936.48 257.05 L938.26 256.76 L940.05 256.46 L941.84 256.16 L943.62 255.87 L945.41 255.57 L947.19 255.28 L948.98 254.98 L950.76 254.69 L952.55 254.39 L954.33 254.10 L956.12 253.81 L957.91 253.51 L959.69 253.22 L961.48 252.93 L963.26 252.64 L965.05 252.35 L966.83 252.05 L968.62 251.76 L970.41 251.47 L972.19 251.18 L973.98 250.89 L975.76 250.60 L977.55 250.31 L979.33 250.03 L981.12 249.74 L982.90 249.45 L984.69 249.16 L986.48 248.88 L988.26 248.59 L990.05 248.30 L991.83 248.02 L993.62 247.73 L995.40 247.45 L997.19 247.16 L998.97 246.88 L1000.76 246.59 L1002.55 246.31 L1004.33 246.02 L1006.12 245.74 L1007.90 245.46 L1009.69 245.18 L1011.47 244.89 L1013.26 244.61 L1015.05 244.33 L1016.83 244.05 L1018.62 243.77 L1020.40 243.49 L1022.19 243.21 L1023.97 242.93 L1025.76 242.65 L1027.54 242.37 L1029.33 242.09 L1031.12 241.82 L1032.90 241.54 L1034.69 241.26 L1036.47 240.98 L1038.26 240.71 L1040.04 240.43 L1041.83 240.16 L1043.62 239.88 L1045.40 239.60 L1047.19 239.33 L1048.97 239.06 L1050.76 238.78 L1052.54 238.51 L1054.33 238.23 L1056.11 237.96 L1057.90 237.69 L1059.69 237.42 L1061.47 237.14 L1063.26 236.87 L1065.04 236.60 L1066.83 236.33 L1068.61 236.06 L1070.40 235.79 L1072.19 235.52 L1073.97 235.25 L1075.76 234.98 L1077.54 234.71 L1079.33 234.45 L1081.11 234.18 L1082.90 233.91 L1084.68 233.64 L1086.47 233.38 L1088.26 233.11 L1090.04 232.84 L1091.83 232.58 L1093.61 232.31 L1095.40 232.05 L1097.18 231.78 L1098.97 231.52 L1100.76 231.25 L1102.54 230.99 L1104.33 230.73 L1106.11 230.47 L1107.90 230.20 L1109.68 229.94 L1111.47 229.68 L1113.25 229.42 L1115.04 229.16 L1116.83 228.90 L1118.61 228.64 L1120.40 228.37 L1122.18 228.12 L1123.97 227.86 L1125.75 227.60 L1127.54 227.34 L1129.33 227.08 L1131.11 226.82 L1132.90 226.56 L1134.68 226.31 L1136.47 226.05 L1138.25 225.79 L1140.04 225.54 L1141.82 225.28 L1143.61 225.03 L1145.40 224.77 L1147.18 224.52 L1148.97 224.26 L1150.75 224.01 L1152.54 223.76 L1154.32 223.50 L1156.11 223.25 L1157.89 223.00 L1159.68 222.74 L1161.47 222.49 L1163.25 222.24 L1165.04 221.99 L1166.82 221.74 L1168.61 221.49 L1170.39 221.24 L1172.18 220.99 L1173.97 220.74 L1175.75 220.49 L1177.54 220.24 L1179.32 219.99 L1181.11 219.74 L1182.89 219.50 L1184.68 219.25 L1186.46 219.00 L1188.25 218.76 L1190.04 218.51 L1191.82 218.26 L1193.61 218.02 L1195.39 217.77 L1197.18 217.53 L1198.96 217.28 L1200.75 217.04 L1202.54 216.80 L1204.32 216.55 L1206.11 216.31 L1207.89 216.07 L1209.68 215.82 L1211.46 215.58 L1213.25 215.34 L1215.03 215.10 L1216.82 214.86 L1218.61 214.62 L1220.39 214.38 L1222.18 214.14 L1223.96 213.90 L1225.75 213.66 L1227.53 213.42 L1229.32 213.18 L1231.11 212.94 L1232.89 212.70 L1234.68 212.47 L1236.46 212.23 L1238.25 211.99 L1240.03 211.76 L1241.82 211.52 L1243.60 211.28 L1245.39 211.05 L1247.18 210.81 L1248.96 210.58 L1250.75 210.34 L1252.53 210.11 L1254.32 209.88 L1256.10 209.64 L1257.89 209.41 L1259.68 209.18 L1261.46 208.95 L1263.25 208.71 L1265.03 208.48 L1266.82 208.25 L1268.60 208.02 L1270.39 207.79 L1272.17 207.56 L1273.96 207.33 L1275.75 207.10 L1277.53 206.87 L1279.32 206.64 L1281.10 206.41 L1282.89 206.18 L1284.67 205.96 L1286.46 205.73 L1288.25 205.50 L1290.03 205.28 L1291.82 205.05 L1293.60 204.82 L1295.39 204.60 L1297.17 204.37 L1298.96 204.15 L1300.74 203.92 L1302.53 203.70 L1304.32 203.47 L1306.10 203.25 L1307.89 203.03 L1309.67 202.80 L1311.46 202.58 L1313.24 202.36 L1315.03 202.14 L1316.82 201.91 L1318.60 201.69 L1320.39 201.47 L1322.17 201.25 L1323.96 201.03 L1325.74 200.81 L1327.53 200.59 L1329.31 200.37 L1331.10 200.15" stroke="#c42824" stroke-width="5.90" fill="none" stroke-dasharray="5.8 9.54"/>
<path d="M797.20 324.60V316.25M797.20 94.80V103.15M903.98 324.60V316.25M903.98 94.80V103.15M1010.76 324.60V316.25M1010.76 94.80V103.15M1117.54 324.60V316.25M1117.54 94.80V103.15M1224.32 324.60V316.25M1224.32 94.80V103.15M1331.10 324.60V316.25M1331.10 94.80V103.15M850.59 324.60V319.69M850.59 94.80V99.71M957.37 324.60V319.69M957.37 94.80V99.71M1064.15 324.60V319.69M1064.15 94.80V99.71M1170.93 324.60V319.69M1170.93 94.80V99.71M1277.71 324.60V319.69M1277.71 94.80V99.71M786.60 324.60H794.95M1341.60 324.60H1333.25M786.60 267.15H794.95M1341.60 267.15H1333.25M786.60 209.70H794.95M1341.60 209.70H1333.25M786.60 152.25H794.95M1341.60 152.25H1333.25M786.60 94.80H794.95M1341.60 94.80H1333.25M786.60 295.88H791.51M1341.60 295.88H1336.69M786.60 238.42H791.51M1341.60 238.42H1336.69M786.60 180.98H791.51M1341.60 180.98H1336.69M786.60 123.53H791.51M1341.60 123.53H1336.69" stroke="#000" stroke-width="2.80" fill="none"/>
<rect x="786.60" y="94.80" width="555.00" height="229.80" fill="none" stroke="#000" stroke-width="2.40"/>
<rect x="144.1" y="46.4" width="56.7" height="6" fill="#1f74b2"/>
<rect x="374" y="46.4" width="22" height="6" fill="#d07217"/>
<rect x="405.4" y="46.4" width="19.6" height="6" fill="#d07217"/>
<rect x="858.8" y="53.7" width="37.2" height="5.8" fill="#439a46"/>
<rect x="905.2" y="53.7" width="3.6" height="5.8" fill="#439a46"/>
<rect x="1079.9" y="53.8" width="5.8" height="5.8" fill="#c42824"/>
<rect x="1095.0" y="53.8" width="5.7" height="5.8" fill="#c42824"/>
<rect x="1110.8" y="53.8" width="5.7" height="5.8" fill="#c42824"/>
<rect x="1126.0" y="53.8" width="4.4" height="5.8" fill="#c42824"/>
<g style="will-change:transform"><text class="tick" transform="translate(67.80 331.85) scale(1 1.0550)" font-size="27.30" text-anchor="end">1.0</text>
<text class="tick" transform="translate(67.80 273.29) scale(1 1.0550)" font-size="27.30" text-anchor="end">1.1</text>
<text class="tick" transform="translate(67.80 214.72) scale(1 1.0550)" font-size="27.30" text-anchor="end">1.2</text>
<text class="tick" transform="translate(67.80 156.16) scale(1 1.0550)" font-size="27.30" text-anchor="end">1.3</text>
<text class="tick" transform="translate(67.80 97.60) scale(1 1.0550)" font-size="27.30" text-anchor="end">1.4</text>
<text class="tick" transform="translate(85.05 348.45) scale(1 1.0550)" font-size="27.30" text-anchor="middle">300</text>
<text class="tick" transform="translate(193.95 348.45) scale(1 1.0550)" font-size="27.30" text-anchor="middle">320</text>
<text class="tick" transform="translate(302.85 348.45) scale(1 1.0550)" font-size="27.30" text-anchor="middle">340</text>
<text class="tick" transform="translate(411.75 348.45) scale(1 1.0550)" font-size="27.30" text-anchor="middle">360</text>
<text class="tick" transform="translate(520.65 348.45) scale(1 1.0550)" font-size="27.30" text-anchor="middle">380</text>
<text class="tick" transform="translate(629.55 348.45) scale(1 1.0550)" font-size="27.30" text-anchor="middle">400</text>
<text class="tick" transform="translate(780.60 333.60) scale(1 1.0550)" font-size="26.81" text-anchor="end">1.20</text>
<text class="tick" transform="translate(780.60 276.15) scale(1 1.0550)" font-size="26.81" text-anchor="end">1.28</text>
<text class="tick" transform="translate(780.60 218.70) scale(1 1.0550)" font-size="26.81" text-anchor="end">1.36</text>
<text class="tick" transform="translate(780.60 161.25) scale(1 1.0550)" font-size="26.81" text-anchor="end">1.44</text>
<text class="tick" transform="translate(780.60 103.80) scale(1 1.0550)" font-size="26.81" text-anchor="end">1.52</text>
<text class="tick" transform="translate(797.20 348.80) scale(1 1.0550)" font-size="26.81" text-anchor="middle">400</text>
<text class="tick" transform="translate(903.98 348.80) scale(1 1.0550)" font-size="26.81" text-anchor="middle">420</text>
<text class="tick" transform="translate(1010.76 348.80) scale(1 1.0550)" font-size="26.81" text-anchor="middle">440</text>
<text class="tick" transform="translate(1117.54 348.80) scale(1 1.0550)" font-size="26.81" text-anchor="middle">460</text>
<text class="tick" transform="translate(1224.32 348.80) scale(1 1.0550)" font-size="26.81" text-anchor="middle">480</text>
<text class="tick" transform="translate(1331.10 348.80) scale(1 1.0550)" font-size="26.81" text-anchor="middle">500</text>
<text class="lab" transform="translate(261.00 391.10)" font-size="30.50">Frequency[Hz]</text>
<text class="lab" transform="translate(969.40 392.00)" font-size="29.95">Frequency[Hz]</text>
<text class="ylab" transform="translate(20.60 280.50) rotate(-90)" font-size="30.20">Sp(abs)[Pa]</text>
<text class="ylab" transform="translate(721.10 283.00) rotate(-90)" font-size="29.66">Sp(abs)[Pa]</text>
<text class="leg" transform="translate(217.50 58.80) scale(1 1.0400)" font-size="25.30">Analytical</text>
<text class="leg" transform="translate(445.50 58.80) scale(1 1.0400)" font-size="25.30">Taylor_04</text>
<text class="leg" transform="translate(928.80 65.70) scale(1 1.0400)" font-size="24.84">Taylor_06</text>
<text class="leg" transform="translate(1149.90 65.70) scale(1 1.0400)" font-size="24.84">Taylor_08</text>
<text class="let" x="-0.60" y="29.60" font-size="45.00">A</text>
<text class="let" transform="translate(693.00 29.60) scale(0.920 1)" font-size="44.19">B</text></g>
</svg></body></html>
